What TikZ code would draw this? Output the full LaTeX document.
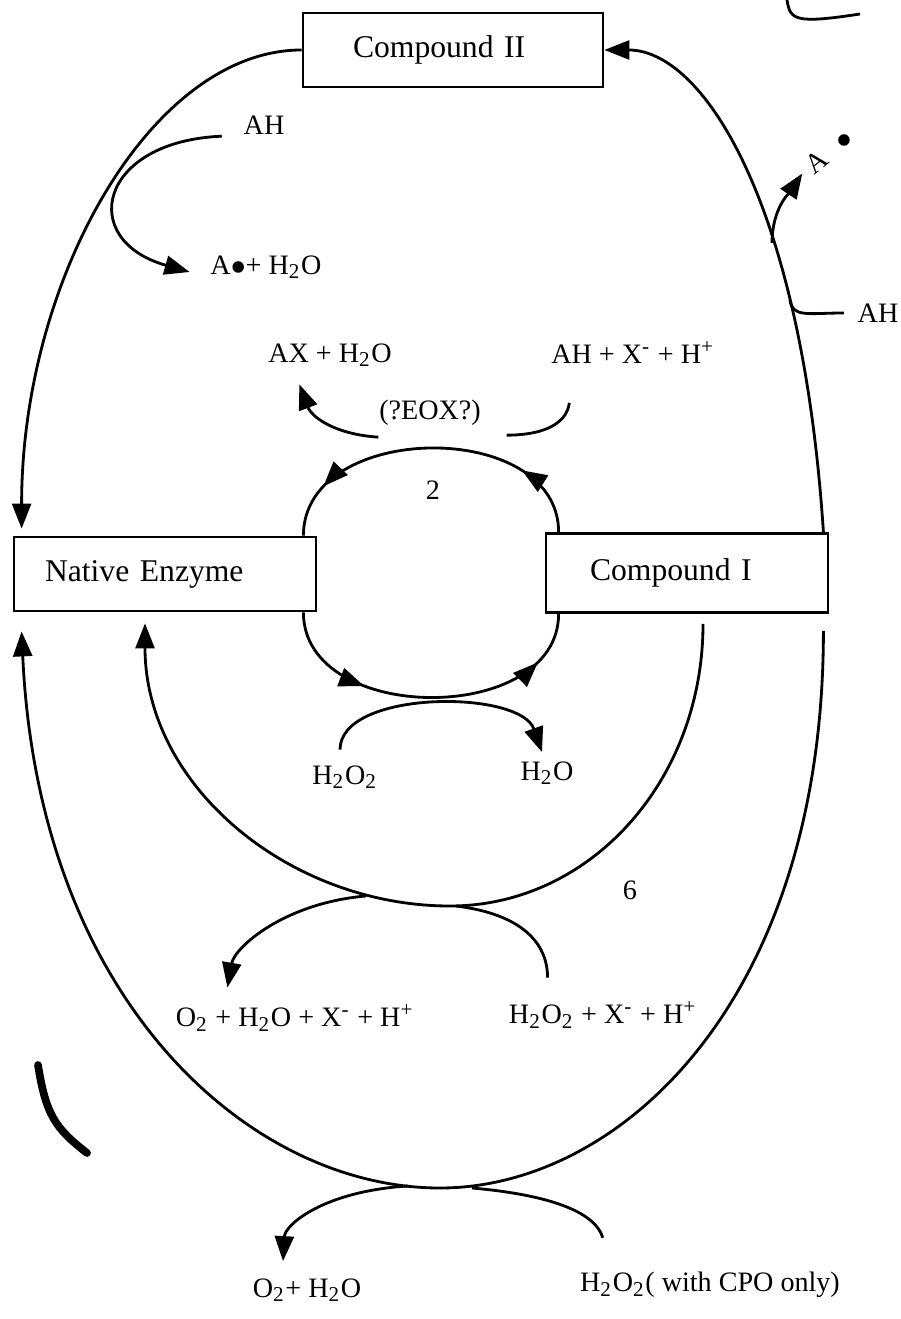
\documentclass[tikz,border=0pt]{standalone}
\usepackage{fontspec}
\setmainfont{Liberation Serif}
\usetikzlibrary{arrows.meta, decorations.markings}

\begin{document}
\begin{tikzpicture}[x=0.1mm, y=-0.1mm, line width=0.8pt,
    box/.style={draw, align=left, minimum height=7.4mm, font=\fontsize{9}{11}\selectfont},
    lbl/.style={inner sep=1pt, font=\fontsize{8}{10}\selectfont},
    arr/.style={-{Triangle[length=2.5mm,width=1.9mm]}},
    twoarr/.style 2 args={postaction={decorate, decoration={markings,
        mark=at position #1 with {\arrow{Triangle[length=2.5mm,width=1.9mm]}},
        mark=at position #2 with {\arrow{Triangle[length=2.5mm,width=1.9mm]}}}}}]
    \useasboundingbox (0,0) rectangle (900,1319);
    \node[box, text width=20mm, inner xsep=5mm] (c2) at (453,50) {Compound II};
    \node[box, text width=24mm, inner xsep=3.1mm] (ne) at (165,574) {Native Enzyme};
    \node[box, text width=19.4mm, inner xsep=4.4mm, minimum height=7.9mm] (c1) at (687,573) {Compound I};
    \node[lbl] (ah1) at (264,125) {AH};
    \node[lbl] (ar1) at (266,267) {A$\bullet$+ H\textsubscript{2}O};
    \node[lbl] (ax) at (330,355) {AX + H\textsubscript{2}O};
    \node[lbl] (ahx) at (633,353) {AH + X\textsuperscript{-} + H\textsuperscript{+}};
    \node[lbl] (eox) at (430,413) {(?EOX?)};
    \node[lbl] (n2) at (433,490) {2};
    \node[lbl] (ah2) at (878,313) {AH};
    \node[lbl, rotate=39] (arA) at (817,162) {A};
    \node[lbl] (ardot) at (844,141) {$\bullet$};
    \node[lbl] (h2o2) at (345,777) {H\textsubscript{2}O\textsubscript{2}};
    \node[lbl] (h2o) at (547,773) {H\textsubscript{2}O};
    \node[lbl] (n6) at (630,890) {6};
    \node[lbl] (o2mix) at (295,1018) {O\textsubscript{2} + H\textsubscript{2}O + X\textsuperscript{-} + H\textsuperscript{+}};
    \node[lbl] (h2o2x) at (603,1015) {H\textsubscript{2}O\textsubscript{2} + X\textsuperscript{-} + H\textsuperscript{+}};
    \node[lbl] (o2h2o) at (307,1290) {O\textsubscript{2}+ H\textsubscript{2}O};
    \node[lbl] (cpo) at (710,1285) {H\textsubscript{2}O\textsubscript{2}( with CPO only)};
    \coordinate (bi) at (450,906);
    \coordinate (bo) at (440,1188);
    \coordinate (jo2) at (366,896);
    \coordinate (jh) at (456,906);
    \coordinate (jo3) at (408,1186);
    \coordinate (jcpo) at (472,1188);
    \coordinate (jah) at (790,300);
    \coordinate (jar) at (772,243);
    \draw[arr] (c2.west) .. controls +(-150,0) and +(0,-250) .. ([xshift=0.9mm,yshift=0.7mm]ne.north west);
    \draw[arr] ([xshift=-0.6mm]c1.north east) .. controls +(-22,-334) and +(97,0) .. (c2.east);
    \draw[arr] ([xshift=-0.6mm,yshift=-1.7mm]c1.south east) .. controls +(0,370) and +(180,0) .. (bo)
        .. controls +(-190,0) and +(17,370) .. ([xshift=0.9mm,yshift=-1.9mm]ne.south west);
    \draw[arr] ([xshift=1.6mm,yshift=-1mm]c1.south) .. controls +(0,157) and +(140,0) .. (bi)
        .. controls +(-160,0) and +(0,163) .. ([xshift=-2mm,yshift=-1.1mm]ne.south);
    \draw[twoarr={0.22}{0.84}] ([xshift=1.4mm]c1.north west) .. controls +(0,-114) and +(0,-115) .. ([xshift=-1.4mm]ne.north east);
    \draw[twoarr={0.3}{0.84}] ([xshift=-1.4mm]ne.south east) .. controls +(0,113) and +(0,112) .. ([xshift=1.4mm]c1.south west);
    \draw[arr] ([xshift=-0.5mm,yshift=1.1mm]h2o2.north) .. controls +(0,-60) and +(-22,-63) .. ([xshift=-0.5mm,yshift=0.45mm]h2o.north);
    \draw ([xshift=2.3mm,yshift=-3.4mm]ahx.south west) .. controls +(-3,23) and +(33,0) .. ([xshift=2.1mm,yshift=-0.45mm]eox.south east);
    \draw[arr] ([xshift=0.4mm,yshift=-0.65mm]eox.south west) .. controls +(-45,-3) and +(12,32) .. ([xshift=3.6mm,yshift=-1.3mm]ax.south west);
    \draw[arr] ([xshift=-1.7mm,yshift=0.3mm]ah1.south west) .. controls +(-123,5) and +(-113,-32) .. ([xshift=-1.6mm,yshift=-0.5mm]ar1.west);
    \draw ([xshift=-0.9mm]ah2.west) .. controls +(-35,0) and +(2,18) .. (jah);
    \draw[arr] (jar) .. controls +(0,-35) and +(-12,18) .. ([xshift=-0.3mm,yshift=-0.2mm]arA.west);
    \draw[arr] (jo2) .. controls +(-82,7) and +(7,-40) .. ([xshift=5.65mm,yshift=1.25mm]o2mix.north west);
    \draw (jh) .. controls +(65,8) and +(0,-35) .. ([xshift=4.35mm,yshift=1.95mm]h2o2x.north west);
    \draw[arr] (jo3) .. controls +(-83,5) and +(2,-37) .. ([xshift=-2.4mm,yshift=1.25mm]o2h2o.north);
    \draw (jcpo) .. controls +(80,7) and +(-7,-25) .. ([xshift=2.75mm,yshift=2.95mm]cpo.north west);
    \draw[line width=2.2pt, line cap=round] (38,1065) .. controls (46,1115) and (55,1128) .. (87,1153);
    \draw (787,0) .. controls (790,20) and (795,24) .. (860,14);
\end{tikzpicture}
\end{document}
